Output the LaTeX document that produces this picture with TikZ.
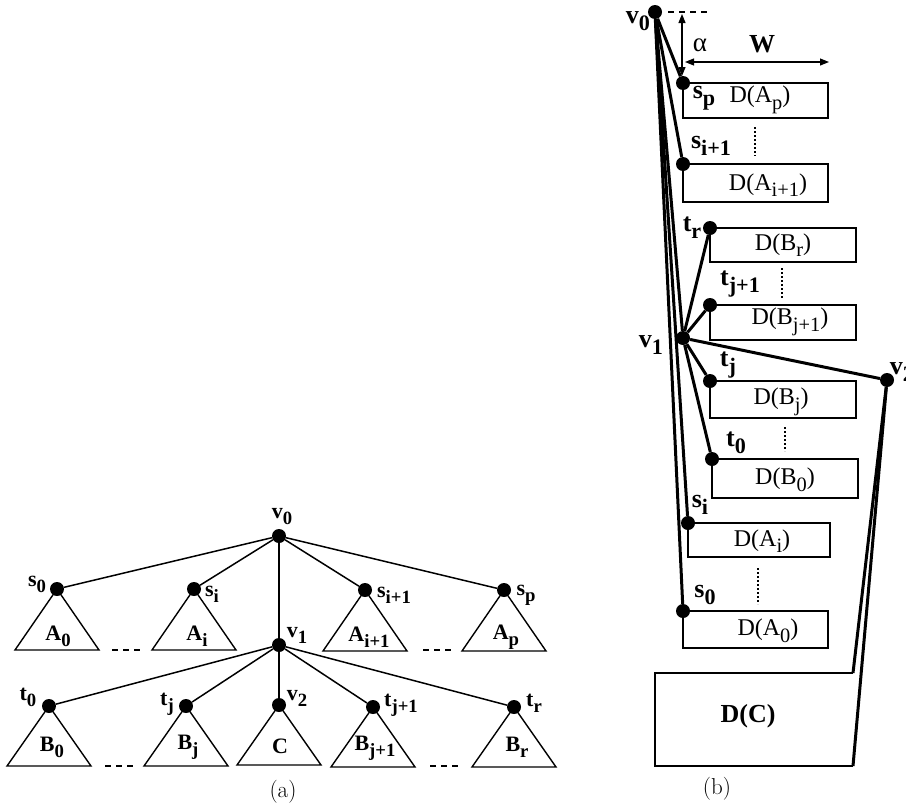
\documentclass[tikz,border=0pt]{standalone}
\usepackage{fontspec}
\usepackage{graphicx}
\newfontfamily\tms{Liberation Serif}
\usetikzlibrary{arrows.meta}
\newcommand\Sb[1]{\raisebox{-0.6ex}{\scalebox{0.85}{#1}}}
\tikzset{
  dotA/.style={circle,fill,inner sep=0pt,minimum size=14pt},
  dotB/.style={circle,fill,inner sep=0pt,minimum size=14pt},
  edgeA/.style={line width=1.5pt},
  edgeB/.style={line width=3pt},
  tri/.style={line width=1.4pt},
  gapdash/.style={line width=1.5pt,dash pattern=on 6pt off 5pt},
  boxB/.style={line width=2.6pt},
  vdots/.style={line width=2.2pt,dash pattern=on 2pt off 2pt},
  labA/.style={font=\tms\bfseries\fontsize{22}{26}\selectfont,inner sep=0pt},
  labB/.style={font=\tms\bfseries\fontsize{26}{30}\selectfont,inner sep=0pt},
  boxtxt/.style={font=\tms\fontsize{24}{28}\selectfont,inner sep=0pt},
  captxt/.style={font=\fontsize{23}{27}\selectfont,inner sep=0pt},
  dimarrow/.style={line width=1.1pt,{Triangle[length=9pt,width=7pt]}-{Triangle[length=9pt,width=7pt]}}
}
\begin{document}
\begin{tikzpicture}[x=1pt,y=-1pt]
\useasboundingbox (0,0) rectangle (906,809);
% ================= (a) =================
\node[dotA] (v0) at (279,536) {};
\node[dotA] (s0) at (57,589) {};
\node[dotA] (si) at (194,589) {};
\node[dotA] (si1) at (365,590) {};
\node[dotA] (sp) at (504,590) {};
\node[dotA] (v1) at (279,645) {};
\node[dotA] (t0) at (49,706) {};
\node[dotA] (tj) at (186,706) {};
\node[dotA] (v2) at (279,705) {};
\node[dotA] (tj1) at (373,707) {};
\node[dotA] (tr) at (514,707) {};
\foreach \n in {s0,si,v1,si1,sp} \draw[edgeA] (v0) -- (\n);
\foreach \n in {t0,tj,v2,tj1,tr} \draw[edgeA] (v1) -- (\n);
\foreach \n in {s0,si,si1,sp} \draw[tri] (\n.center) -- ++(-42,61) -- ++(84,0) -- cycle;
\foreach \n in {t0,tj,v2,tj1,tr} \draw[tri] (\n.center) -- ++(-42,60) -- ++(84,0) -- cycle;
\draw[gapdash] (112,650) -- (140,650);
\draw[gapdash] (423,650) -- (452,650);
\draw[gapdash] (105,766) -- (133,766);
\draw[gapdash] (430,766) -- (459,766);
\node[labA] (lv0) at (282,517) {v\Sb{0}};
\node[labA] (ls0) at (37,584) {s\Sb{0}};
\node[labA] (lsi) at (212,594) {s\Sb{i}};
\node[labA] (lsi1) at (394,595) {s\Sb{i+1}};
\node[labA] (lsp) at (526,595) {s\Sb{p}};
\node[labA] (lv1) at (297,635) {v\Sb{1}};
\node[labA] (lt0) at (28,697) {t\Sb{0}};
\node[labA] (ltj) at (167,704) {t\Sb{j}};
\node[labA] (lv2) at (297,698) {v\Sb{2}};
\node[labA] (ltj1) at (401,705) {t\Sb{j+1}};
\node[labA] (ltr) at (534,703) {t\Sb{r}};
\node[labA] (A0) at (58,636) {A\Sb{0}};
\node[labA] (Ai) at (197,636) {A\Sb{i}};
\node[labA] (Ai1) at (369,637) {A\Sb{i+1}};
\node[labA] (Ap) at (506,637) {A\Sb{p}};
\node[labA] (B0) at (52,747) {B\Sb{0}};
\node[labA] (Bj) at (188,747) {B\Sb{j}};
\node[labA] (C) at (280,746) {C};
\node[labA] (Bj1) at (375,748) {B\Sb{j+1}};
\node[labA] (Br) at (517,747) {B\Sb{r}};
\node[captxt] (capa) at (283,792) {(a)};
% ================= (b) =================
\draw[boxB] (683,83) rectangle (828,118);
\draw[boxB] (683,164) rectangle (828,202);
\draw[boxB] (710,228) rectangle (856,262);
\draw[boxB] (710,305) rectangle (856,340);
\draw[boxB] (710,381) rectangle (856,418);
\draw[boxB] (712,459) rectangle (858,498);
\draw[boxB] (688,523) rectangle (830,557);
\draw[boxB] (683,611) rectangle (828,648);
\coordinate (dcTR) at (853,673);
\coordinate (dcBR) at (853,766);
\draw[boxB] (dcTR) -- (655,673) -- (655,766) -- (dcBR);
\node[dotB] (bv0) at (655,12) {};
\node[dotB] (bsp) at (683,83) {};
\node[dotB] (bsi1) at (683,164) {};
\node[dotB] (btr) at (710,228) {};
\node[dotB] (btj1) at (710,305) {};
\node[dotB] (bv1) at (683,338) {};
\node[dotB] (btj) at (710,381) {};
\node[dotB] (bv2) at (887,380) {};
\node[dotB] (bt0) at (712,459) {};
\node[dotB] (bsi) at (688,523) {};
\node[dotB] (bs0) at (683,611) {};
\foreach \n in {bsp,bsi1,bv1,bsi,bs0} \draw[edgeB] (bv0) -- (\n);
\foreach \n in {btr,btj1,btj,bt0,bv2} \draw[edgeB] (bv1) -- (\n);
\draw[edgeB] (bv2) -- (dcTR);
\draw[edgeB] (bv2) -- (dcBR);
% dimensions
\coordinate (dtopL) at (668,12);
\coordinate (dtopR) at (708,12);
\draw[line width=1.2pt,dash pattern=on 6pt off 5pt] (dtopL) -- (dtopR);
\coordinate (aTop) at (682,14);
\coordinate (aBot) at (682,76);
\draw[dimarrow] (aTop) -- (aBot);
\coordinate (wL) at (685,62);
\coordinate (wR) at (829,62);
\draw[dimarrow] (wL) -- (wR);
\node[font=\tms\fontsize{27}{30}\selectfont,inner sep=0pt] (alpha) at (700,45) {α};
\node[labB] (W) at (762,44) {W};
% vertical dots
\draw[vdots] (755,127) -- (755,156);
\draw[vdots] (782,268) -- (782,298);
\draw[vdots] (785,427) -- (785,451);
\draw[vdots] (758,568) -- (758,604);
% labels
\node[labB] (blv0) at (638,21) {v\Sb{0}};
\node[labB] (blsp) at (704,98) {s\Sb{p}};
\node[boxtxt] (DAp) at (760,100) {D(A\Sb{p})};
\node[labB] (blsi1) at (711,146) {s\Sb{i+1}};
\node[boxtxt] (DAi1) at (768,185) {D(A\Sb{i+1})};
\node[labB] (bltr) at (692,228) {t\Sb{r}};
\node[boxtxt] (DBr) at (783,245) {D(B\Sb{r})};
\node[labB] (bltj1) at (740,284) {t\Sb{j+1}};
\node[boxtxt] (DBj1) at (790,322) {D(B\Sb{j+1})};
\node[labB] (blv1) at (651,345) {v\Sb{1}};
\node[labB] (bltj) at (728,365) {t\Sb{j}};
\node[boxtxt] (DBj) at (781,402) {D(B\Sb{j})};
\node[labB] (blv2) at (902,372) {v\Sb{2}};
\node[labB] (blt0) at (736,443) {t\Sb{0}};
\node[boxtxt] (DB0) at (785,480) {D(B\Sb{0})};
\node[labB] (blsi) at (700,505) {s\Sb{i}};
\node[boxtxt] (DAi) at (762,541) {D(A\Sb{i})};
\node[labB] (bls0) at (705,595) {s\Sb{0}};
\node[boxtxt] (DA0) at (768,631) {D(A\Sb{0})};
\node[labB] (DC) at (748,716) {D(C)};
\node[captxt] (capb) at (717,789) {(b)};
\end{tikzpicture}
\end{document}
